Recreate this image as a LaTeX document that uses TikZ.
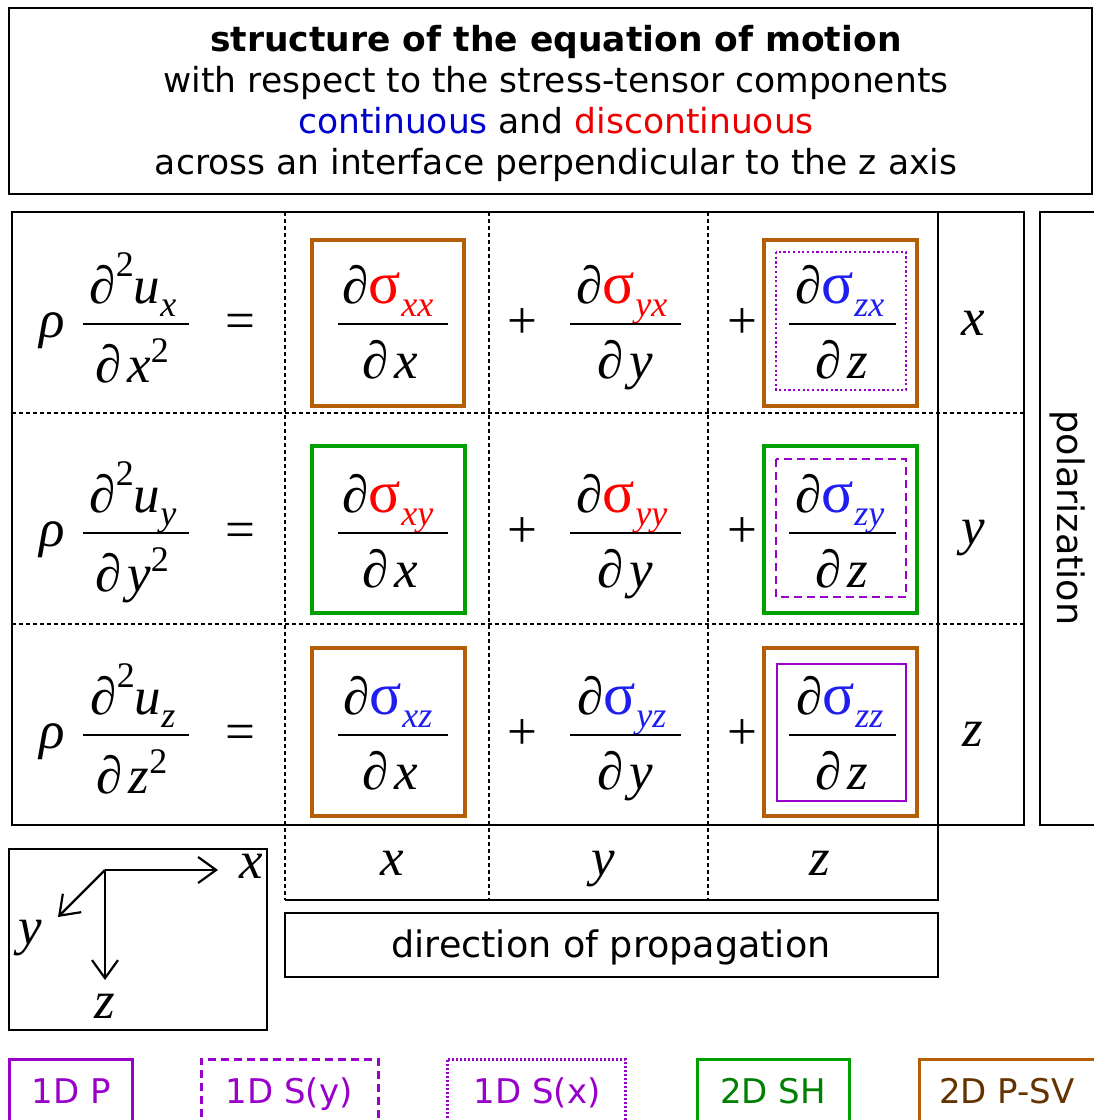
\documentclass[tikz,border=0pt]{standalone}
\usepackage{fontspec}
\setmainfont{DejaVu Sans}
\newfontfamily\tms{Liberation Serif}
\usetikzlibrary{arrows.meta}
\definecolor{cbrown}{RGB}{180,95,6}
\definecolor{cgreen}{RGB}{0,160,0}
\definecolor{cpurple}{RGB}{153,0,204}
\definecolor{cblue}{RGB}{30,30,240}
\definecolor{cred}{RGB}{255,0,0}
\definecolor{tblue}{RGB}{0,0,204}
\definecolor{tred}{RGB}{235,0,0}
\definecolor{tgreen}{RGB}{0,128,0}
\definecolor{tbrown}{RGB}{102,51,0}
\newcommand\msize{\fontsize{53}{53}\selectfont}
\newcommand\ssize{\fontsize{36}{36}\selectfont}
\newcommand\sgm[2]{{\color{#1}{\fontsize{60}{60}\selectfont σ}\raisebox{-13pt}{\ssize\itshape #2}}}
\newcommand\lnum[1]{∂\raisebox{27pt}{\ssize 2}{\itshape u}\raisebox{-13pt}{\ssize\itshape #1}}
\newcommand\lden[1]{∂\hspace{6pt}{\itshape #1}\raisebox{20pt}{\ssize 2}}
\newcommand\cden[1]{∂\hspace{6pt}{\itshape #1}}
\begin{document}
\begin{tikzpicture}[x=1pt,y=-1pt,
  mth/.style={font=\tms\msize, inner sep=0pt, anchor=base},
  sfb/.style={inner sep=0pt, anchor=base},
  tline/.style={line width=2.4pt},
  dline/.style={line width=2.2pt, dash pattern=on 4pt off 3pt},
  fbar/.style={line width=2.2pt},
  obox/.style={line width=3.8pt},
  ibox/.style={line width=2.2pt, cpurple},
  lgbox/.style={line width=3pt},
  axarrow/.style={line width=2.2pt, -{Straight Barb[length=18pt,width=26pt,line width=2.2pt]}},
  ttl/.style={sfb, font=\fontsize{34.5}{40}\selectfont},
]
\useasboundingbox (0,0) rectangle (1094,1120);
\clip (0,0) rectangle (1094,1120);
\fill[white] (0,0) rectangle (1094,1120);

% title
\draw[tline] (9,8) rectangle (1092,194);
\node[ttl] (t1) at (556,51) {\bfseries structure of the equation of motion};
\node[ttl] (t2) at (556,92) {with respect to the stress-tensor components};
\node[ttl] (t3) at (556,133) {{\color{tblue}continuous} and {\color{tred}discontinuous}};
\node[ttl] (t4) at (556,174) {across an interface perpendicular to the z axis};

% table grid
\draw[dline] (12,413) -- (1024,413);
\draw[dline] (12,624) -- (1024,624);
\foreach \xx in {285,489,708} \draw[dline] (\xx,212) -- (\xx,900);
\draw[tline] (12,212) -- (1024,212) -- (1024,825) -- (12,825) -- cycle;
\draw[tline] (938,212) -- (938,900) -- (285,900);

% polarization box
\draw[tline] (1100,212) -- (1040,212) -- (1040,825) -- (1100,825);
\node[rotate=-90, inner sep=0pt, font=\fontsize{36.5}{40}\selectfont] (pol) at (1068,518) {polarization};

% coloured boxes
\draw[obox, cbrown] (312,240) rectangle (464,406);
\draw[obox, cbrown] (764,240) rectangle (917,406);
\draw[ibox, dash pattern=on 2.2pt off 2.5pt] (776,252) rectangle (906,390);
\draw[obox, cgreen] (312,446) rectangle (465,613);
\draw[obox, cgreen] (764,446) rectangle (917,613);
\draw[ibox, dash pattern=on 8pt off 5pt] (776,459) rectangle (906,597);
\draw[obox, cbrown] (312,648) rectangle (465,816);
\draw[obox, cbrown] (764,648) rectangle (917,816);
\draw[ibox] (777,664) rectangle (906,801);

% equations
\foreach \r/\B/\v/\ca/\cb/\cc/\sa/\sb/\sc in {1/324/x/cred/cred/cblue/xx/yx/zx, 2/533/y/cred/cred/cblue/xy/yy/zy, 3/735/z/cblue/cblue/cblue/xz/yz/zz}{
  \node[mth] (rho\r) at (52,\B+13) {\itshape ρ};
  \node[mth] (ln\r) at (133,\B-21) {\lnum{\v}};
  \node[mth] (ld\r) at (132,\B+58) {\lden{\v}};
  \draw[fbar] (83,\B) -- (189,\B);
  \node[mth, anchor=center] (eq\r) at (240,\B+2) {=};
  \node[mth] (na\r) at (388,\B-21) {∂\sgm{\ca}{\sa}};
  \node[mth] (da\r) at (390,\B+54) {\cden{x}};
  \draw[fbar] (338,\B) -- (448,\B);
  \node[mth, anchor=center] (pa\r) at (522,\B) {+};
  \node[mth] (nb\r) at (622,\B-21) {∂\sgm{\cb}{\sb}};
  \node[mth] (db\r) at (625,\B+54) {\cden{y}};
  \draw[fbar] (570,\B) -- (681,\B);
  \node[mth, anchor=center] (pb\r) at (742,\B) {+};
  \node[mth] (nc\r) at (840,\B-21) {∂\sgm{\cc}{\sc}};
  \node[mth] (dc\r) at (842,\B+54) {\cden{z}};
  \draw[fbar] (789,\B) -- (896,\B);
  \node[mth] (pol\r) at (973,\B+11) {\itshape \v};
}

% propagation directions
\node[mth] (px) at (392,875) {\itshape x};
\node[mth] (py) at (603,875) {\itshape y};
\node[mth] (pz) at (820,875) {\itshape z};
\draw[tline] (285,913) rectangle (938,977);
\node[sfb, font=\fontsize{36.5}{40}\selectfont] (dir) at (611,957) {direction of propagation};

% axes
\draw[tline] (9,849) rectangle (267,1030);
\coordinate (O) at (105,870);
\coordinate (xe) at (218,870);
\coordinate (ye) at (58,917);
\coordinate (ze) at (105,980);
\draw[axarrow] (O) -- (xe);
\draw[axarrow] (O) -- (ye);
\draw[axarrow] (O) -- (ze);
\node[mth, anchor=center] (xl) at (251,866) {\itshape x};
\node[mth, anchor=center] (yl) at (30,938) {\itshape y};
\node[mth, anchor=center] (zl) at (105,1006) {\itshape z};

% legend
\draw[lgbox, cpurple] (9,1130) -- (9,1059) -- (132,1059) -- (132,1130);
\draw[lgbox, cpurple, dash pattern=on 8pt off 5pt] (201,1130) -- (201,1059) -- (378,1059) -- (378,1130);
\draw[lgbox, cpurple, dash pattern=on 2pt off 2pt] (447,1130) -- (447,1059) -- (625,1059) -- (625,1130);
\draw[lgbox, cgreen] (697,1130) -- (697,1059) -- (849,1059) -- (849,1130);
\draw[lgbox, cbrown] (919,1130) -- (919,1059) -- (1100,1059);
\node[sfb, text=cpurple, font=\fontsize{34}{40}\selectfont] (l1) at (71,1103) {1D P};
\node[sfb, text=cpurple, font=\fontsize{34}{40}\selectfont] (l2) at (289,1103) {1D S(y)};
\node[sfb, text=cpurple, font=\fontsize{34}{40}\selectfont] (l3) at (537,1103) {1D S(x)};
\node[sfb, text=tgreen, font=\fontsize{34}{40}\selectfont] (l4) at (773,1103) {2D SH};
\node[sfb, text=tbrown, font=\fontsize{34}{40}\selectfont] (l5) at (1007,1103) {2D P-SV};
\end{tikzpicture}
\end{document}
